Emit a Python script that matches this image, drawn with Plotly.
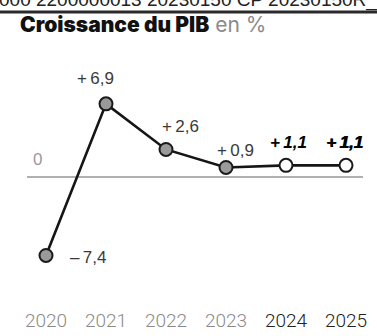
import plotly.graph_objects as go

# ---- data ----
years = ["2020", "2021", "2022", "2023", "2024", "2025"]
growth = [-7.4, 6.9, 2.6, 0.9, 1.1, 1.1]
forecast = [False, False, False, False, True, True]
title_main = "Croissance du PIB"
title_unit = "en %"
header_text = "000 2200000013 20230150 CP 20230150R_0"


def fmt(v):
    s = f"{abs(v):.1f}".replace(".", ",")
    return ("+\u2009" if v >= 0 else "–\u2009") + s


value_labels = [fmt(v) for v in growth]

# ---- style ----
W, H = 377, 336
PX_PER_X = 60.0
X0_PX = 46.0
PX_PER_Y = 10.6
ZERO_PX = 177.0
MB = 40
plot_h = H - MB
y_top = ZERO_PX / PX_PER_Y
y_bot = y_top - plot_h / PX_PER_Y
x_lo = -X0_PX / PX_PER_X
x_hi = x_lo + W / PX_PER_X

offsets = {  # (xshift, yshift) of each value label in px
    0: (42, -2), 1: (-11, 25), 2: (14, 23), 3: (9, 17), 4: (2, 23), 5: (-2, 23)
}

xs = list(range(len(years)))
fig = go.Figure()

# zero line
fig.add_shape(type="line", xref="x", yref="y", x0=x_lo + 27 / PX_PER_X, x1=x_lo + 363 / PX_PER_X,
              y0=0, y1=0, line=dict(color="#b0b0b0", width=2), layer="below")

fig.add_trace(go.Scatter(
    x=xs, y=growth, mode="lines+markers",
    line=dict(color="#151515", width=2.6),
    marker=dict(size=13,
                color=["#ffffff" if f else "#9a9a9a" for f in forecast],
                line=dict(color="#1a1a1a", width=2)),
    cliponaxis=False, hoverinfo="skip", showlegend=False,
))

for i, (v, lab, f) in enumerate(zip(growth, value_labels, forecast)):
    dx, dy = offsets[i]
    if f:
        font = dict(family="Liberation Sans, Arial", size=17, color="#000",
                    weight="bold", style="italic")
        if i == len(years) - 1:
            font["shadow"] = "0.8px 0 0 #000"
    else:
        font = dict(family="Liberation Sans, Arial", size=17, color="#3a3a3a")
    fig.add_annotation(x=i, y=v, text=lab, showarrow=False, xshift=dx, yshift=dy,
                       xanchor="center", yanchor="middle", font=font)

# "0" label
fig.add_annotation(x=x_lo + 37 / PX_PER_X, y=0, text="0", showarrow=False, yshift=18,
                   xanchor="center", yanchor="middle",
                   font=dict(family="Liberation Sans, Arial", size=17, color="#9a9a9a"))

# header line and cut text
fig.add_annotation(xref="paper", yref="paper", x=-3 / W, y=1, yshift=-13,
                   xanchor="left", yanchor="bottom", text=header_text, showarrow=False,
                   font=dict(family="Liberation Sans, Arial", size=19, color="#222"))
fig.add_shape(type="line", xref="paper", yref="paper", x0=0, x1=1,
              y0=1 - 12 / plot_h, y1=1 - 12 / plot_h, line=dict(color="#2a2a2a", width=3),
              layer="above")
fig.add_annotation(xref="paper", yref="paper", x=18 / W, y=1, yshift=-10,
                   xanchor="left", yanchor="top", showarrow=False,
                   text=f"<span style='font-weight:900'>{title_main}</span> "
                        f"<span style='color:#8a8a8a;font-weight:400'>{title_unit}</span>",
                   font=dict(family="Inter, Liberation Sans, Arial", size=21, color="#111"))

tick_text = [f"<span style='color:{'#222' if f else '#8a8a8a'}'>{y}</span>"
             for y, f in zip(years, forecast)]

fig.update_layout(
    width=W, height=H, margin=dict(l=0, r=0, t=0, b=MB),
    paper_bgcolor="white", plot_bgcolor="white",
    xaxis=dict(range=[x_lo, x_hi], tickmode="array", tickvals=xs, ticktext=tick_text,
               showgrid=False, zeroline=False, showline=False, ticks="",
               ticklabelstandoff=11,
               tickfont=dict(family="Roboto, DejaVu Sans Condensed, Arial",
                             size=19, color="#8a8a8a", weight=300)),
    yaxis=dict(range=[y_bot, y_top], visible=False, showgrid=False, zeroline=False),
)

fig.write_html("out.html", config={"displayModeBar": False},
               post_script="document.body.style.margin='0';")
